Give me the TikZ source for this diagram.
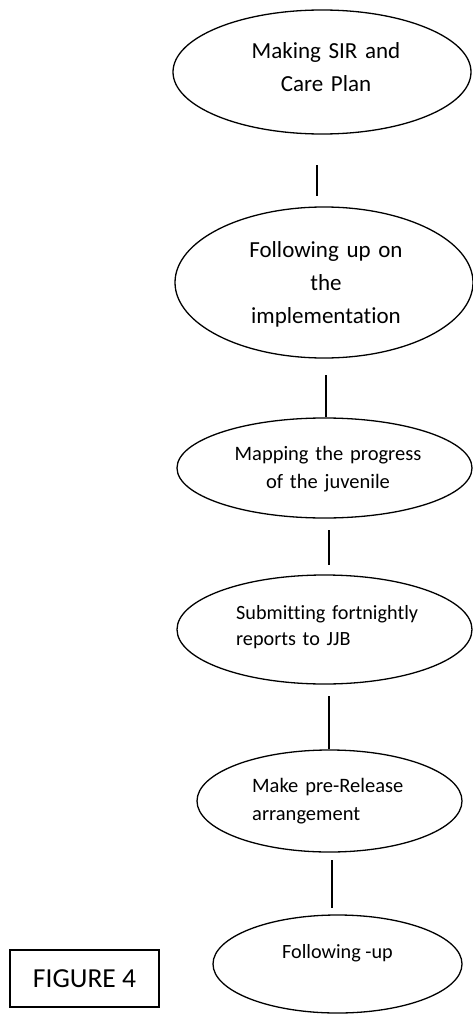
\documentclass[tikz,border=0pt]{standalone}
\usepackage{fontspec}
\setmainfont{Carlito}[Ligatures={NoCommon}]
\usetikzlibrary{shapes.geometric}
\begin{document}
\begin{tikzpicture}[x=1pt,y=-1pt,
  oval/.style={draw=black,ellipse,line width=1.3pt,inner sep=0pt},
  conn/.style={draw=black,line width=1.3pt},
  ctext/.style={inner sep=0pt,align=center,anchor=base},
  ltext/.style={inner sep=0pt,align=left,anchor=base west}]
\useasboundingbox (0,0) rectangle (472,1014);
% ellipses
\node[oval,minimum width=298pt,minimum height=124pt] (e1) at (322,72) {};
\node[oval,minimum width=298pt,minimum height=151pt] (e2) at (324,282.5) {};
\node[oval,minimum width=295pt,minimum height=100pt] (e3) at (324.5,468) {};
\node[oval,minimum width=295pt,minimum height=109pt] (e4) at (324.5,629.5) {};
\node[oval,minimum width=265pt,minimum height=102pt] (e5) at (329.5,801) {};
\node[oval,minimum width=249pt,minimum height=98pt] (e6) at (337.5,964) {};
% texts
\node[ctext,text width=260pt,font={\fontsize{23}{33}\selectfont}] (t1) at (326,59) {Making SIR and\\Care Plan};
\node[ctext,text width=260pt,font={\fontsize{23}{33}\selectfont}] (t2) at (326,257) {Following up on\\the\\implementation};
\node[ctext,text width=260pt,font={\fontsize{20.5}{28}\selectfont}] (t3) at (328,460) {Mapping the progress\\of the juvenile};
\node[ltext,text width=220pt,font={\fontsize{20.2}{26.5}\selectfont}] (t4) at (236,619) {Submitting fortnightly\\reports to JJB};
\node[ltext,text width=200pt,font={\fontsize{20.5}{28}\selectfont}] (t5) at (252,792) {Make pre-Release\\arrangement};
\node[ctext,font={\fontsize{20.2}{28}\selectfont}] (t6) at (337.5,958) {Following -up};
% figure box
\node[draw=black,line width=1.2pt,minimum width=149pt,minimum height=57pt,inner sep=0pt,
      font={\fontsize{27.5}{33}\selectfont}] (fig) at (84.5,978.5) {FIGURE 4};
% connector end points
\coordinate (a1) at (317,165); \coordinate (b1) at (317,196);
\coordinate (a2) at (326,375); \coordinate (b2) at (326,417);
\coordinate (a3) at (329,530); \coordinate (b3) at (329,565);
\coordinate (a4) at (329,696); \coordinate (b4) at (329,749);
\coordinate (a5) at (332,860); \coordinate (b5) at (332,908);
\draw[conn] (a1) -- (b1);
\draw[conn] (a2) -- (b2);
\draw[conn] (a3) -- (b3);
\draw[conn] (a4) -- (b4);
\draw[conn] (a5) -- (b5);
\end{tikzpicture}
\end{document}
